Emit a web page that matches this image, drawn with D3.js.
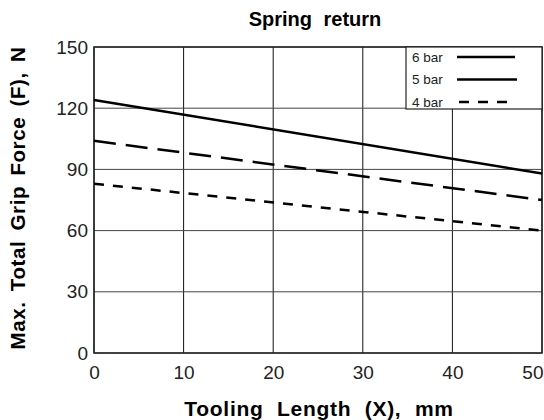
<!DOCTYPE html>
<html>
<head>
<meta charset="utf-8">
<script src="https://cdn.jsdelivr.net/npm/d3@7"></script>
<style>
  body { margin: 0; background: #fff; }
  svg { font-family: 'Liberation Sans', Arial, sans-serif; }
</style>
</head>
<body>
<figure style="margin:0"></figure>
<script>
const width = 544
const height = 420

// data
const lengths = [0, 50]
const force6bar = [124, 88]
const force5bar = [104, 75]
const force4bar = [83, 60]
const xTicks = [0, 10, 20, 30, 40, 50]
const yTicks = [0, 30, 60, 90, 120, 150]
const seriesNames = ['6 bar', '5 bar', '4 bar']

const margin = { top: 47, right: 2, bottom: 67, left: 94 }

const svg = d3.select('figure').append('svg')
  .attr('width', width)
  .attr('height', height)

const x = d3.scaleLinear().domain([0, 50]).range([margin.left, width - margin.right])
const y = d3.scaleLinear().domain([0, 150]).range([height - margin.bottom, margin.top])

// grid
svg.append('g')
  .selectAll('line.v')
  .data(xTicks)
  .join('line')
  .attr('x1', d => x(d)).attr('x2', d => x(d))
  .attr('y1', y(0)).attr('y2', y(150))
  .attr('stroke', '#111')
  .attr('stroke-width', 1)

svg.append('g')
  .selectAll('line.h')
  .data(yTicks)
  .join('line')
  .attr('x1', x(0)).attr('x2', x(50))
  .attr('y1', d => y(d)).attr('y2', d => y(d))
  .attr('stroke', '#444')
  .attr('stroke-width', 1)

svg.append('rect')
  .attr('x', x(0)).attr('y', y(150))
  .attr('width', x(50) - x(0)).attr('height', y(0) - y(150))
  .attr('fill', 'none')
  .attr('stroke', '#222')
  .attr('stroke-width', 1.5)

// axes
const xAxis = svg.append('g')
  .attr('transform', `translate(0,${y(0)})`)
  .call(d3.axisBottom(x).tickValues(xTicks).tickSize(0).tickPadding(13))
xAxis.select('.domain').remove()
xAxis.selectAll('text').attr('font-size', 19).attr('fill', '#222')
// last label sits flush with the right edge
xAxis.selectAll('text').filter(d => d === 50)
  .attr('text-anchor', 'end')
  .attr('dx', 1)

const yAxis = svg.append('g')
  .attr('transform', `translate(${x(0)},0)`)
  .call(d3.axisLeft(y).tickValues(yTicks).tickSize(0).tickPadding(6))
yAxis.select('.domain').remove()
yAxis.selectAll('text').attr('font-size', 19).attr('fill', '#222')

// lines
const series = [
  { name: '6 bar', values: force6bar, dash: null },
  { name: '5 bar', values: force5bar, dash: '22,10' },
  { name: '4 bar', values: force4bar, dash: '10,9' }
]

const line = d3.line()
  .x((d, i) => x(lengths[i]))
  .y(d => y(d))

svg.append('g')
  .selectAll('path')
  .data(series)
  .join('path')
  .attr('d', d => line(d.values))
  .attr('fill', 'none')
  .attr('stroke', '#000')
  .attr('stroke-width', 2.5)
  .attr('stroke-dasharray', d => d.dash)

// legend
const legend = svg.append('g')
legend.append('rect')
  .attr('x', 406).attr('y', y(150))
  .attr('width', x(50) - 406).attr('height', 62)
  .attr('fill', '#fff')
  .attr('stroke', '#222')
  .attr('stroke-width', 1.2)

const legendDash = [null, null, '10,9']
const legendRows = legend.selectAll('g.row')
  .data(seriesNames)
  .join('g')
  .attr('transform', (d, i) => `translate(0,${57 + i * 22.5})`)

legendRows.append('text')
  .attr('x', 412).attr('y', 0)
  .attr('dy', '0.35em')
  .attr('font-size', 13.5)
  .attr('fill', '#222')
  .text(d => d)

legendRows.append('line')
  .attr('x1', (d, i) => i === 2 ? 459 : 457)
  .attr('x2', (d, i) => i === 1 ? 517 : 515)
  .attr('y1', 0).attr('y2', 0)
  .attr('stroke', '#000')
  .attr('stroke-width', 2.5)
  .attr('stroke-dasharray', (d, i) => legendDash[i])

// titles
svg.append('text')
  .attr('x', 315).attr('y', 26)
  .attr('text-anchor', 'middle')
  .attr('font-size', 20)
  .attr('font-weight', 'bold')
  .attr('word-spacing', 6)
  .text('Spring return')

svg.append('text')
  .attr('x', 319).attr('y', 416)
  .attr('text-anchor', 'middle')
  .attr('font-size', 21)
  .attr('font-weight', 'bold')
  .attr('letter-spacing', 0.7)
  .attr('word-spacing', 7)
  .text('Tooling Length (X), mm')

svg.append('text')
  .attr('transform', `translate(25,198) rotate(-90)`)
  .attr('text-anchor', 'middle')
  .attr('font-size', 20.5)
  .attr('font-weight', 'bold')
  .attr('letter-spacing', 0.6)
  .attr('word-spacing', 4)
  .text('Max. Total Grip Force (F), N')
</script>
</body>
</html>
